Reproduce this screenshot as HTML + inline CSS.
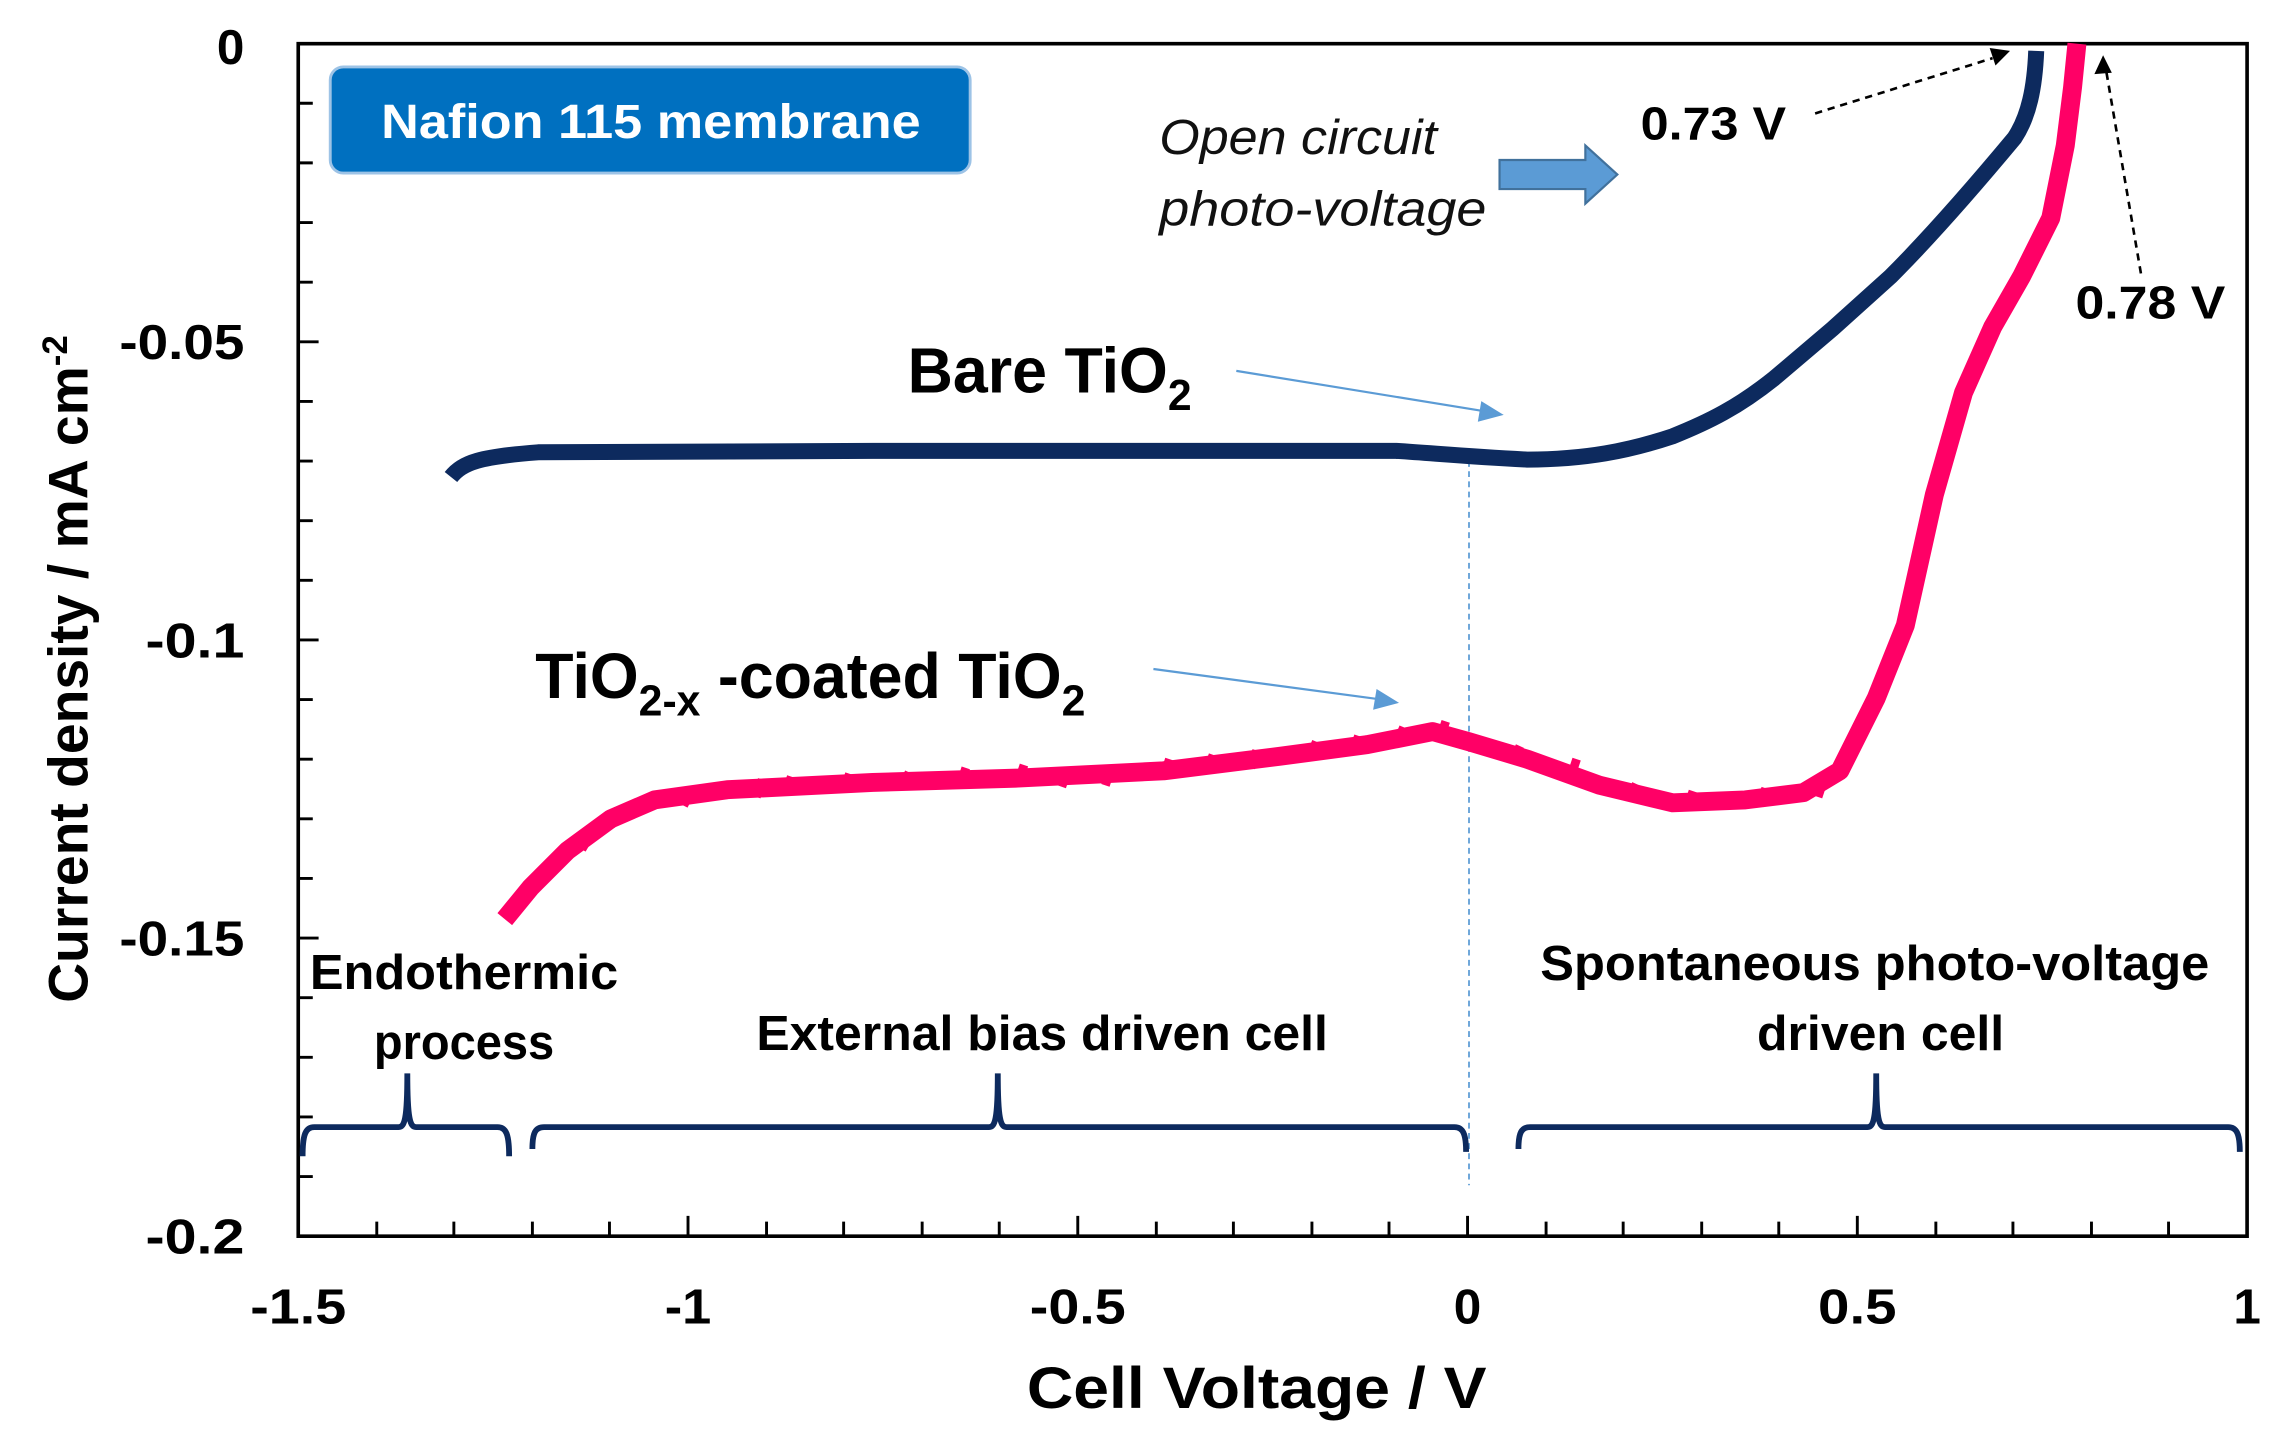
<!DOCTYPE html>
<html><head><meta charset="utf-8"><style>
html,body{margin:0;padding:0;background:#fff}
svg{display:block}
</style></head><body>
<svg width="2269" height="1434" viewBox="0 0 1560 986" xmlns="http://www.w3.org/2000/svg">
<rect width="1560" height="986" fill="#fff"/>
<path d="M205 30 V850 H1545 V30 Z" fill="none" stroke="#000" stroke-width="2.5"/>
<g stroke="#000" stroke-width="2">
<path d="M205 71h10M205 112h10M205 153h10M205 194h10M205 235h14M205 276h10M205 317h10M205 358h10M205 399h10M205 440h14M205 481h10M205 522h10M205 563h10M205 604h10M205 645h14M205 686h10M205 727h10M205 768h10M205 809h10"/>
<path d="M259 850v-10M312 850v-10M366 850v-10M419 850v-10M473 850v-14M527 850v-10M580 850v-10M634 850v-10M687 850v-10M741 850v-14M795 850v-10M848 850v-10M902 850v-10M955 850v-10M1009 850v-14M1063 850v-10M1116 850v-10M1170 850v-10M1223 850v-10M1277 850v-14M1331 850v-10M1384 850v-10M1438 850v-10M1491 850v-10"/>
</g>
<g font-family="Liberation Sans,sans-serif" font-weight="bold" font-size="34" fill="#000">
<text x="168" y="44" text-anchor="end">0</text>
<text x="82" y="247" textLength="86" lengthAdjust="spacingAndGlyphs">-0.05</text>
<text x="100" y="452" textLength="68" lengthAdjust="spacingAndGlyphs">-0.1</text>
<text x="82" y="657" textLength="86" lengthAdjust="spacingAndGlyphs">-0.15</text>
<text x="100" y="862" textLength="68" lengthAdjust="spacingAndGlyphs">-0.2</text>
<text x="172" y="910" textLength="66" lengthAdjust="spacingAndGlyphs">-1.5</text>
<text x="457" y="910" textLength="32" lengthAdjust="spacingAndGlyphs">-1</text>
<text x="708" y="910" textLength="66" lengthAdjust="spacingAndGlyphs">-0.5</text>
<text x="1009" y="910" text-anchor="middle">0</text>
<text x="1250" y="910" textLength="54" lengthAdjust="spacingAndGlyphs">0.5</text>
<text x="1545" y="910" text-anchor="middle">1</text>
<text x="706" y="968" font-size="40" textLength="316" lengthAdjust="spacingAndGlyphs">Cell Voltage / V</text>
<text transform="translate(60,460) rotate(-90)" text-anchor="middle" font-size="38">Current density / mA cm<tspan font-size="24" dy="-14">-2</tspan></text>
</g>
<line x1="1010" y1="310" x2="1010" y2="815" stroke="#5b9bd5" stroke-width="1.2" stroke-dasharray="4,3"/>
<path d="M310 328 C318 318 330 314 370 311 L600 310 L960 310 C990 312 1010 314 1050 316 C1090 316 1120 310 1150 300 C1175 290 1195 280 1220 260 L1260 226 L1300 190 C1330 160 1360 125 1385 95 C1395 80 1399 60 1400 35" fill="none" stroke="#0d2a5e" stroke-width="11"/>
<path d="M347 632 L365 610 L390 585 L420 563 L450 550 L500 543 L600 538 L700 535 L800 530 L880 520 L940 512 L985 503 L1010 510 L1050 522 L1100 540 L1150 552 L1200 550 L1240 545 L1265 530 L1290 480 L1310 430 L1330 340 L1350 270 L1370 225 L1390 190 L1410 150 L1420 100 L1425 60 L1428 30" fill="none" stroke="#ff0066" stroke-width="13" stroke-linejoin="round"/>
<path d="M400 584l6-10M420 568l5-12M470 554l5-10M520 548l4-12M540 546l4-12M580 544l4-12M620 542l5-11M660 540l4-12M700 538l4-12M730 541l4-12M760 540l4-12M800 534l4-12M830 530l4-11M860 528l4-12M900 522l5-12M930 518l4-12M960 512l5-12M990 508l4-12M1040 524l5-11M1080 534l4-12M1120 550l5-11M1160 556l4-12M1210 554l4-12M1250 548l4-12" stroke="#ff0066" stroke-width="6"/>
<rect x="227" y="46" width="440" height="73" rx="9" fill="#0070c0" stroke="#9dc3e6" stroke-width="2"/>
<g font-family="Liberation Sans,sans-serif" font-weight="bold" fill="#000">
<text x="262" y="95" font-size="33" fill="#fff" textLength="371" lengthAdjust="spacingAndGlyphs">Nafion 115 membrane</text>
<text x="797" y="106" font-size="34" font-style="italic" font-weight="normal" fill="#111" textLength="191" lengthAdjust="spacingAndGlyphs">Open circuit</text>
<text x="797" y="155" font-size="34" font-style="italic" font-weight="normal" fill="#111" textLength="225" lengthAdjust="spacingAndGlyphs">photo-voltage</text>
<text x="1128" y="96" font-size="32" textLength="100" lengthAdjust="spacingAndGlyphs">0.73 V</text>
<text x="1427" y="219" font-size="32" textLength="103" lengthAdjust="spacingAndGlyphs">0.78 V</text>
<g transform="translate(624,270) scale(0.98,1)"><text x="0" y="0" font-size="44">Bare TiO<tspan font-size="30" dy="12">2</tspan></text></g>
<g transform="translate(368,480) scale(0.98,1)"><text x="0" y="0" font-size="44">TiO<tspan font-size="30" dy="12">2-x</tspan><tspan dy="-12"> -coated TiO</tspan><tspan font-size="30" dy="12">2</tspan></text></g>
<text x="213" y="680" font-size="34" textLength="212" lengthAdjust="spacingAndGlyphs">Endothermic</text>
<text x="257" y="728" font-size="34" textLength="124" lengthAdjust="spacingAndGlyphs">process</text>
<text x="520" y="722" font-size="34" textLength="393" lengthAdjust="spacingAndGlyphs">External bias driven cell</text>
<text x="1059" y="674" font-size="34" textLength="460" lengthAdjust="spacingAndGlyphs">Spontaneous photo-voltage</text>
<text x="1208" y="722" font-size="34" textLength="170" lengthAdjust="spacingAndGlyphs">driven cell</text>
</g>
<path d="M1031 110 H1090 V100 L1112 120 L1090 140 V130 H1031 Z" fill="#5b9bd5" stroke="#41719c" stroke-width="1.5"/>
<g stroke="#5b9bd5" stroke-width="1.5" fill="#5b9bd5">
<line x1="850" y1="255" x2="1022" y2="283"/><path d="M1032 285 l-13 -8 l-2 12z"/>
<line x1="793" y1="460" x2="950" y2="481"/><path d="M960 483 l-13 -8 l-2 12z"/>
</g>
<g stroke="#000" stroke-width="1.8" stroke-dasharray="5,4" fill="none">
<line x1="1248" y1="78" x2="1370" y2="40"/>
<line x1="1472" y1="188" x2="1448" y2="48"/>
</g>
<path d="M1382 35 l-14 -2 l4 12z M1446 38 l-6 13 l12 -1z" fill="#000"/>
<g stroke="#0d2a5e" stroke-width="4" fill="none">
<path d="M208 795 C208 780 210 775 216 775 H274 C278 775 280 770 280 738 C280 770 282 775 286 775 H342 C348 775 350 780 350 795"/>
<path d="M366 790 C366 779 368 775 374 775 H680 C684 775 686 770 686 738 C686 770 688 775 692 775 H1000 C1006 775 1008 780 1008 792"/>
<path d="M1044 790 C1044 779 1046 775 1052 775 H1284 C1288 775 1290 770 1290 738 C1290 770 1292 775 1296 775 H1532 C1538 775 1540 780 1540 792"/>
</g>
</svg>
</body></html>
